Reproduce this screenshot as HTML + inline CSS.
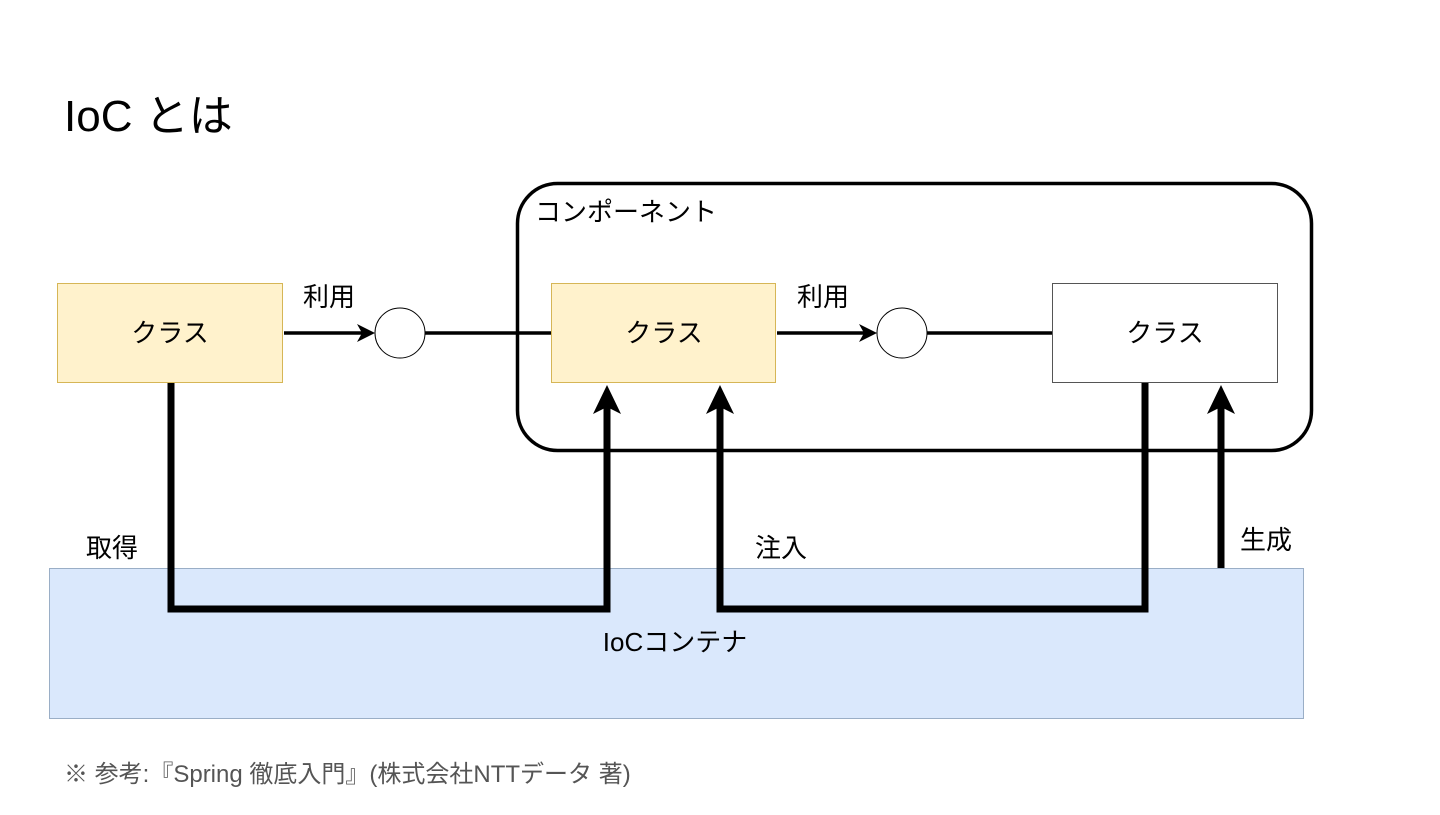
<!DOCTYPE html>
<html><head><meta charset="utf-8"><style>
body{margin:0;width:1440px;height:810px;background:#fff;overflow:hidden}
svg text{font-family:"Liberation Sans","Noto Sans CJK JP",sans-serif;fill:#000}
</style></head><body>
<svg width="1440" height="810" viewBox="0 0 1440 810">
<text x="64" y="131" font-size="44">IoC とは</text>
<rect x="49.5" y="568.5" width="1254" height="150" fill="#dae8fc" stroke="#9aaec6"/>
<text x="675" y="651" font-size="26" text-anchor="middle">IoCコンテナ</text>
<rect x="517.5" y="183.5" width="794" height="267" rx="40" fill="none" stroke="#000" stroke-width="3.5"/>
<text x="535" y="221" font-size="26">コンポーネント</text>
<rect x="57.5" y="283.5" width="225" height="99" fill="#fff2cc" stroke="#d6b656"/>
<text x="170" y="342" font-size="26" text-anchor="middle">クラス</text>
<rect x="551.5" y="283.5" width="224" height="99" fill="#fff2cc" stroke="#d6b656"/>
<text x="664" y="342" font-size="26" text-anchor="middle">クラス</text>
<rect x="1052.5" y="283.5" width="225" height="99" fill="#fff" stroke="#555"/>
<text x="1165" y="342" font-size="26" text-anchor="middle">クラス</text>
<circle cx="400" cy="333" r="25" fill="#fff" stroke="#000"/>
<circle cx="902" cy="333" r="25" fill="#fff" stroke="#000"/>
<g stroke="#000" stroke-width="3.5" fill="none">
<line x1="284" y1="333" x2="362" y2="333"/>
<line x1="425" y1="333" x2="551" y2="333"/>
<line x1="777" y1="333" x2="864" y2="333"/>
<line x1="927" y1="333" x2="1052" y2="333"/>
</g>
<polygon points="375,333 357,324 362,333 357,342" fill="#000"/>
<polygon points="877,333 859,324 864,333 859,342" fill="#000"/>
<text x="303" y="306" font-size="26">利用</text>
<text x="797" y="306" font-size="26">利用</text>
<g stroke="#000" stroke-width="7" fill="none">
<polyline points="171,383 171,609 607,609 607,405"/>
<polyline points="1145,383 1145,609 720,609 720,405"/>
<line x1="1221" y1="568" x2="1221" y2="405"/>
</g>
<g fill="#000">
<polygon points="607,385 593,414 607,407 621,414"/>
<polygon points="720,385 706,414 720,407 734,414"/>
<polygon points="1221,385 1207,414 1221,407 1235,414"/>
</g>
<text x="86" y="557" font-size="26">取得</text>
<text x="755" y="557" font-size="26">注入</text>
<text x="1240" y="549" font-size="26">生成</text>
<text x="64" y="782" font-size="24" fill="#555" style="fill:#555">※ 参考:『Spring 徹底入門』(株式会社NTTデータ 著)</text>
</svg>
</body></html>
